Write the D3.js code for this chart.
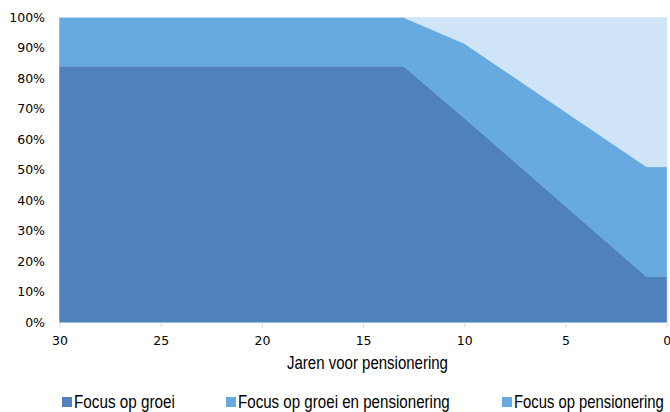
<!DOCTYPE html>
<html><head><meta charset="utf-8">
<script src="https://cdn.jsdelivr.net/npm/d3@7/dist/d3.min.js"></script>
<style>
html,body{margin:0;padding:0;background:#fff;}
svg{display:block;}
</style></head>
<body>
<svg id="chart" width="670" height="412"></svg>
<script>
const years = [30, 13, 10, 1, 0];
const seriesNames = ["Focus op groei", "Focus op groei en pensionering", "Focus op pensionering"];
const groei = [84, 84, 67, 15, 15];
const groeiEnPensionering = [16, 16, 24.5, 36, 36];
const pensionering = [0, 0, 8.5, 49, 49];
const xTicks = [30, 25, 20, 15, 10, 5, 0];
const yTicks = [0, 10, 20, 30, 40, 50, 60, 70, 80, 90, 100];
const areaColors = ["#4f81bd", "#66aadf", "#cfe4f7"];
const legendColors = ["#4f81bd", "#66aadf", "#66aadf"];

const svg = d3.select("#chart");
const x = d3.scaleLinear().domain([30, 0]).range([59.5, 666.7]);
const y = d3.scaleLinear().domain([0, 100]).range([322.3, 17.5]);

const rows = years.map((yr, i) => ({year: yr, s0: groei[i], s1: groeiEnPensionering[i], s2: pensionering[i]}));
const stack = d3.stack().keys(["s0", "s1", "s2"]);
const layers = stack(rows);

const area = d3.area()
  .x(d => x(d.data.year))
  .y0(d => y(d[0]))
  .y1(d => y(d[1]));

svg.append("g").selectAll("path").data(layers).join("path")
  .attr("d", area)
  .attr("fill", (d, i) => areaColors[i])
  .attr("stroke", (d, i) => areaColors[i])
  .attr("stroke-width", 0.5);

// x axis
const xAxis = d3.axisBottom(x).tickValues(xTicks).tickSize(5).tickPadding(9).tickFormat(d3.format("d"));
const gx = svg.append("g").attr("transform", "translate(0,322.5)").call(xAxis);
gx.select(".domain").remove();
gx.selectAll(".tick line").attr("stroke", "#d9d9d9");
gx.selectAll(".tick text").attr("fill", "#000").style("font-family", "DejaVu Sans, Verdana, sans-serif").style("font-size", "12.5px");

// y axis
const yAxis = d3.axisLeft(y).tickValues(yTicks).tickSize(0).tickPadding(12).tickFormat(d => d + "%");
const gy = svg.append("g").attr("transform", "translate(57,0)").call(yAxis);
gy.select(".domain").remove();
gy.selectAll(".tick text").attr("fill", "#000").style("font-family", "DejaVu Sans, Verdana, sans-serif").style("font-size", "12.5px");

// condensed text helper: scales a text horizontally to a target width
function condense(sel, x0, y0, w) {
  const n = sel.node().getComputedTextLength();
  const k = w / n;
  sel.attr("x", 0).attr("y", 0).attr("transform", `translate(${x0},${y0}) scale(${k},1)`);
}

// axis title
const title = svg.append("text")
  .style("font-family", "Liberation Sans, Arial, sans-serif").style("font-size", "17.5px")
  .attr("fill", "#000").text("Jaren voor pensionering");
condense(title, 287, 369, 161);

// legend
const legendX = [62, 226, 502];
const legendW = [101, 212, 150];
seriesNames.forEach((name, i) => {
  svg.append("rect").attr("x", legendX[i]).attr("y", 397).attr("width", 10).attr("height", 10)
    .attr("fill", legendColors[i]);
  const t = svg.append("text")
    .style("font-family", "Liberation Sans, Arial, sans-serif").style("font-size", "18px")
    .attr("fill", "#000").text(name);
  condense(t, legendX[i] + 12, 407.5, legendW[i]);
});
</script>
</body></html>
